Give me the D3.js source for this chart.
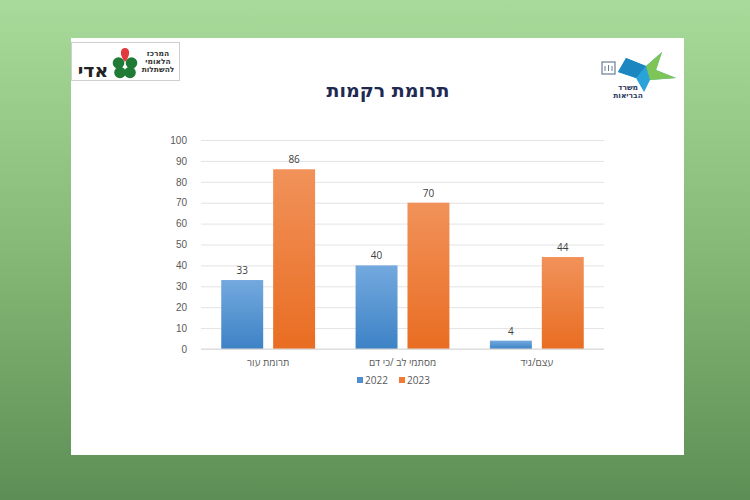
<!DOCTYPE html>
<html><head><meta charset="utf-8">
<script src="https://cdn.jsdelivr.net/npm/d3@7"></script>
<style>html,body{margin:0;padding:0;overflow:hidden}</style>
</head><body>
<script>
const title = "תרומת רקמות";
const categories = ["תרומת עור", "מסתמי לב /כי דם", "עצם/גיד"];
const seriesNames = ["2022", "2023"];
const values2022 = [33, 40, 4];
const values2023 = [86, 70, 44];
const yTicks = [0, 10, 20, 30, 40, 50, 60, 70, 80, 90, 100];

const W = 750, H = 500;
const svg = d3.select("body").append("svg").attr("width", W).attr("height", H)
  .style("font-family", "'Open Sans', 'DejaVu Sans', sans-serif");
const defs = svg.append("defs");

// background gradient
const bg = defs.append("linearGradient").attr("id", "bg").attr("x1", 0).attr("y1", 0).attr("x2", 0).attr("y2", 1);
bg.append("stop").attr("offset", "0%").attr("stop-color", "#a8da9b");
bg.append("stop").attr("offset", "50%").attr("stop-color", "#86b977");
bg.append("stop").attr("offset", "100%").attr("stop-color", "#5d8e55");
svg.append("rect").attr("width", W).attr("height", H).attr("fill", "url(#bg)");

// white slide
svg.append("rect").attr("x", 71).attr("y", 38).attr("width", 613).attr("height", 417).attr("fill", "#ffffff");

// bar gradients
function grad(id, top, bottom) {
  const g = defs.append("linearGradient").attr("id", id).attr("x1", 0).attr("y1", 0).attr("x2", 0).attr("y2", 1);
  g.append("stop").attr("offset", "0%").attr("stop-color", top);
  g.append("stop").attr("offset", "100%").attr("stop-color", bottom);
}
grad("gBlue", "#73a9de", "#3d82c6");
grad("gOrange", "#f1925a", "#e96d22");
const fills = ["url(#gBlue)", "url(#gOrange)"];
const solid = ["#4f8fd0", "#ef7b35"];

// title
svg.append("text").attr("x", 388).attr("y", 97).attr("text-anchor", "middle")
  .attr("font-size", 19).attr("font-weight", "bold").attr("fill", "#1f2a52")
  .attr("font-family", "'DejaVu Sans', 'Noto Sans', sans-serif").text(title);

// chart
const x0 = d3.scaleBand().domain(categories).range([201, 604]);
const x1 = d3.scaleBand().domain(seriesNames).range([0, x0.bandwidth()]).paddingInner(0.192).paddingOuter(0.39);
const y = d3.scaleLinear().domain([0, 100]).range([349, 140]);

const gy = svg.append("g").attr("transform", "translate(201,0)")
  .call(d3.axisLeft(y).tickValues(yTicks).tickSize(-403).tickPadding(14));
gy.select(".domain").remove();
gy.selectAll(".tick line").attr("stroke", "#e3e3e3");
gy.selectAll(".tick text").attr("fill", "#595959").attr("font-size", 10);

const data = categories.map((c, i) => ({c, vals: [values2022[i], values2023[i]]}));
const grp = svg.selectAll(".cat").data(data).join("g").attr("transform", d => `translate(${x0(d.c)},0)`);
grp.selectAll("rect").data(d => d.vals.map((v, k) => ({k, v}))).join("rect")
  .attr("x", d => x1(seriesNames[d.k])).attr("width", x1.bandwidth())
  .attr("y", d => y(d.v)).attr("height", d => y(0) - y(d.v))
  .attr("fill", d => fills[d.k]);
grp.selectAll("text.lbl").data(d => d.vals.map((v, k) => ({k, v}))).join("text").attr("class", "lbl")
  .attr("x", d => x1(seriesNames[d.k]) + x1.bandwidth() / 2).attr("y", d => y(d.v) - 6)
  .attr("text-anchor", "middle").attr("font-size", 10).attr("fill", "#404040").text(d => d.v);

// baseline
svg.append("line").attr("x1", 201).attr("x2", 604).attr("y1", y(0)).attr("y2", y(0)).attr("stroke", "#d9d9d9");

// category labels
svg.selectAll("text.cat").data(categories).join("text").attr("class", "cat")
  .attr("x", d => x0(d) + x0.bandwidth() / 2).attr("y", 366).attr("text-anchor", "middle")
  .attr("font-size", 10).attr("fill", "#595959").attr("direction", "rtl").text(d => d);

// legend
const leg = svg.append("g").attr("transform", "translate(357,375)");
seriesNames.forEach((s, i) => {
  const lx = i * 42;
  leg.append("rect").attr("x", lx).attr("y", 2).attr("width", 6).attr("height", 6).attr("fill", solid[i]);
  leg.append("text").attr("x", lx + 8).attr("y", 9).attr("font-size", 10).attr("fill", "#595959").text(s);
});

// left logo (ADI)
const ll = svg.append("g");
ll.append("rect").attr("x", 71.5).attr("y", 42.5).attr("width", 108).attr("height", 38).attr("fill", "#fff").attr("stroke", "#cfcfcf");
ll.append("text").attr("x", 93).attr("y", 77).attr("text-anchor", "middle").attr("font-size", 19).attr("font-weight", "bold")
  .attr("fill", "#222").attr("font-family", "'DejaVu Sans', sans-serif").text("אדי");
const cx = 125, cy = 66;
[[-6.5,-3],[6.5,-3],[-5,6.5],[5,6.5]].forEach(([dx, dy]) =>
  ll.append("circle").attr("cx", cx + dx).attr("cy", cy + dy).attr("r", 5.8).attr("fill", "#1f7a35"));
ll.append("path").attr("d", `M${cx},${cy-4} C${cx-6},${cy-11} ${cx-5},${cy-18} ${cx},${cy-18} C${cx+5},${cy-18} ${cx+6},${cy-11} ${cx},${cy-4}Z`).attr("fill", "#e03a3e");
["המרכז", "הלאומי", "להשתלות"].forEach((t, i) =>
  ll.append("text").attr("x", 158).attr("y", 56 + i * 8).attr("text-anchor", "middle").attr("font-size", 7.5)
    .attr("font-weight", "bold").attr("fill", "#333").attr("font-family", "'DejaVu Sans', sans-serif").text(t));

// right logo (Ministry of Health)
const rl = svg.append("g");
rl.append("rect").attr("x", 602).attr("y", 62).attr("width", 13).attr("height", 12).attr("fill", "#fff").attr("stroke", "#6a7d96").attr("stroke-width", 1.2);
rl.append("path").attr("d", "M605,71 L605,66 M608.5,71 L608.5,65 M612,71 L612,66").attr("stroke", "#6a7d96").attr("stroke-width", 1);
rl.append("path").attr("d", "M626,58 L646,66 L662,52 L656,70 L676,78 L650,80 L644,92 L636,78 L618,72 Z").attr("fill", "#2aa3d8");
rl.append("path").attr("d", "M646,66 L662,52 L656,70 L676,78 L650,80 Z").attr("fill", "#8ccb3f").attr("opacity", 0.85);
rl.append("path").attr("d", "M626,58 L646,66 L636,78 L618,72 Z").attr("fill", "#1b86c0");
["משרד", "הבריאות"].forEach((t, i) =>
  rl.append("text").attr("x", 628).attr("y", 90 + i * 8).attr("text-anchor", "middle").attr("font-size", 7.5)
    .attr("font-weight", "bold").attr("fill", "#2c3a5e").attr("font-family", "'DejaVu Sans', sans-serif").text(t));
</script>
</body></html>
